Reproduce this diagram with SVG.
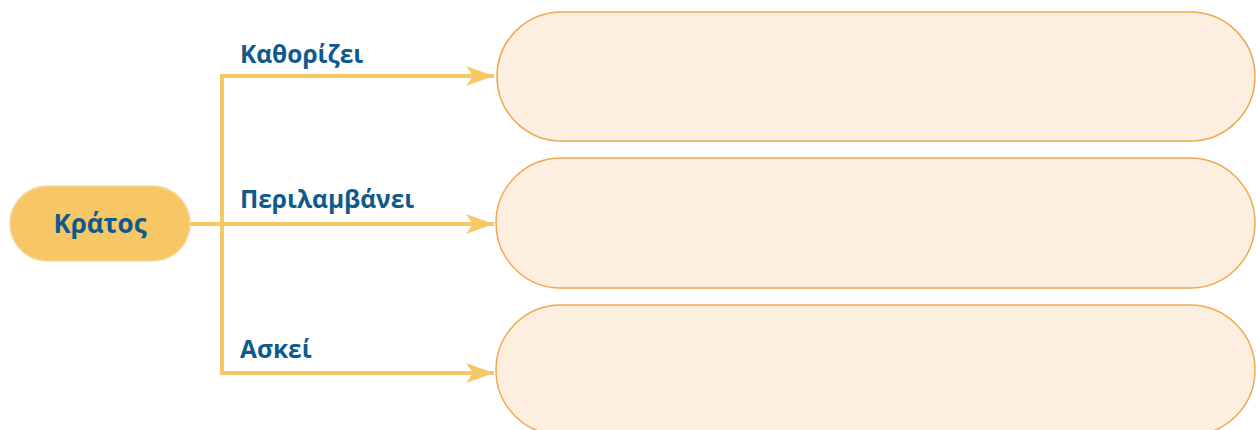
<svg xmlns="http://www.w3.org/2000/svg" width="1256" height="430" viewBox="0 0 1256 430">
<style>
.box{fill:#FCEFE0;stroke:#F2A850;stroke-width:1.5}
.lbl{font-family:"Open Sans","Noto Sans","DejaVu Sans",sans-serif;font-weight:bold;font-size:24.5px;fill:#0E5A8C}
.conn{fill:none;stroke:#F7C766;stroke-width:4}
.head{fill:#F7C766}
</style>
<defs>
<marker id="arr" markerUnits="userSpaceOnUse" markerWidth="30" markerHeight="24" refX="28" refY="12" orient="auto">
<path class="head" d="M0,2 L28,12 L0,22 L7,12 Z"/>
</marker>
</defs>
<rect width="1256" height="430" fill="#FFFFFF"/>
<g id="connectors">
<path class="conn" d="M190,224 H222"/>
<path class="conn" d="M222,76 V373"/>
<path class="conn" d="M220,76 H494" marker-end="url(#arr)"/>
<path class="conn" d="M222,224 H494" marker-end="url(#arr)"/>
<path class="conn" d="M220,373 H494" marker-end="url(#arr)"/>
<text class="lbl" x="240" y="63">Καθορίζει</text>
<text class="lbl" x="240" y="208">Περιλαμβάνει</text>
<text class="lbl" x="240" y="358">Ασκεί</text>
</g>
<g id="kratos">
<rect x="10" y="186" width="180" height="75" rx="37.5" fill="#F7C766" stroke="#F9D796" stroke-width="1.5"/>
<text class="lbl" x="100" y="233" text-anchor="middle" style="font-size:26px">Κράτος</text>
</g>
<g id="box1"><rect class="box" x="497" y="12" width="758" height="129" rx="64.5"/></g>
<g id="box2"><rect class="box" x="496" y="158" width="759" height="130" rx="65"/></g>
<g id="box3"><rect class="box" x="496" y="305" width="759" height="130" rx="65"/></g>
</svg>
